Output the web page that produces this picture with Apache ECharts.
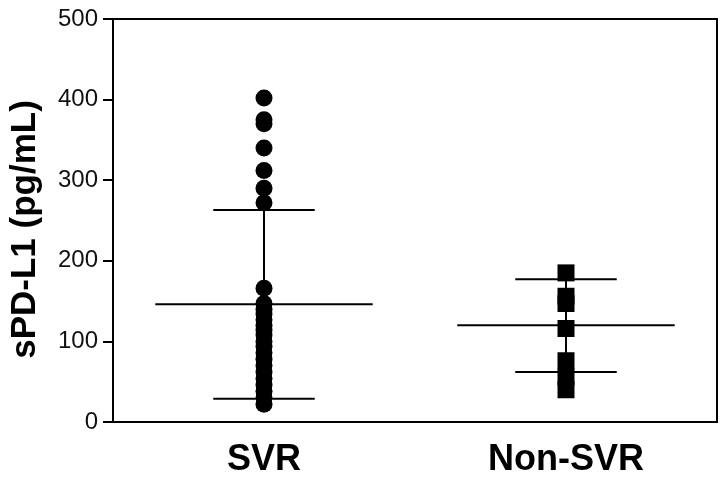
<!DOCTYPE html>
<html>
<head>
<meta charset="utf-8">
<script src="https://cdn.jsdelivr.net/npm/echarts@6/dist/echarts.min.js"></script>
<style>html,body{margin:0;padding:0;background:#fff}#c{width:726px;height:478px}</style>
</head>
<body>
<div id="c"></div>
<script>
var categories = ['SVR', 'Non-SVR'];
var yTicks = [0, 100, 200, 300, 400, 500];
var svrValues = [402, 375, 370, 340, 312, 290, 272, 166, 147, 140, 134, 127, 120, 114, 108, 100, 94, 86, 78, 70, 62, 54, 46, 38, 30, 22];
var nonSvrValues = [185, 156, 147, 116, 76, 56, 40];
var means = [146, 120];
var lowerSD = [29, 62];
var upperSD = [263, 177];

var chart = echarts.init(document.getElementById('c'));
var font = 'Liberation Sans, Arial, sans-serif';

var errData = categories.map(function (c, i) { return [i, means[i], lowerSD[i], upperSD[i]]; });

chart.setOption({
  animation: false,
  backgroundColor: '#fff',
  grid: { left: 110, right: 9, top: 19, bottom: 55, show: true, borderColor: '#000', borderWidth: 2 },
  xAxis: {
    type: 'category',
    data: categories,
    axisLine: { lineStyle: { color: '#000', width: 2 } },
    axisTick: { alignWithLabel: true, length: 11, lineStyle: { color: '#000', width: 2 } },
    axisLabel: { color: '#000', fontFamily: font, fontWeight: 'bold', fontSize: 36, margin: 20 },
    splitLine: { show: false }
  },
  yAxis: {
    type: 'value',
    min: yTicks[0], max: yTicks[yTicks.length - 1], interval: 100,
    name: 'sPD-L1 (pg/mL)',
    nameLocation: 'middle',
    nameGap: 70,
    nameTextStyle: { color: '#000', fontFamily: font, fontWeight: 'bold', fontSize: 35, padding: [0, 18, 0, 0] },
    axisLine: { show: true, lineStyle: { color: '#000', width: 2 } },
    axisTick: { show: true, length: 10, lineStyle: { color: '#000', width: 2 } },
    axisLabel: { color: '#111', fontFamily: font, fontSize: 24, margin: 15 },
    splitLine: { show: false }
  },
  series: [
    {
      type: 'scatter',
      symbol: 'circle',
      symbolSize: 17,
      itemStyle: { color: '#000', opacity: 1 },
      data: svrValues.map(function (v) { return [0, v]; })
    },
    {
      type: 'scatter',
      symbol: 'rect',
      symbolSize: 17,
      itemStyle: { color: '#000', opacity: 1 },
      data: nonSvrValues.map(function (v) { return [1, v]; })
    },
    {
      type: 'custom',
      data: errData,
      encode: { x: 0, y: [1, 2, 3] },
      z: 5,
      renderItem: function (params, api) {
        var x = api.value(0);
        var pm = api.coord([x, api.value(1)]);
        var pl = api.coord([x, api.value(2)]);
        var pu = api.coord([x, api.value(3)]);
        var bw = api.size([1, 0])[0];
        var mw = bw * 0.72 / 2;
        var cw = bw * 0.336 / 2;
        var st = { stroke: '#000', lineWidth: 2 };
        return {
          type: 'group',
          children: [
            { type: 'line', shape: { x1: pl[0], y1: pl[1], x2: pu[0], y2: pu[1] }, style: st },
            { type: 'line', shape: { x1: pm[0] - mw, y1: pm[1], x2: pm[0] + mw, y2: pm[1] }, style: st },
            { type: 'line', shape: { x1: pl[0] - cw, y1: pl[1], x2: pl[0] + cw, y2: pl[1] }, style: st },
            { type: 'line', shape: { x1: pu[0] - cw, y1: pu[1], x2: pu[0] + cw, y2: pu[1] }, style: st }
          ]
        };
      }
    }
  ]
});
</script>
</body>
</html>
